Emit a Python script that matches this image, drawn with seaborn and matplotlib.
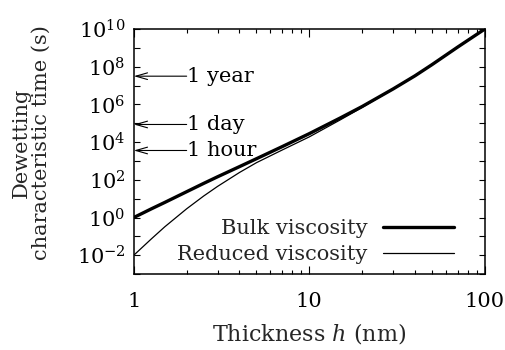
import matplotlib
matplotlib.use("Agg")
import matplotlib.pyplot as plt
import seaborn as sns
import pandas as pd

# Film thickness (nm)
thickness = [1, 1.26, 1.5, 2, 2.5, 3, 4, 5, 7, 10, 15, 20, 30, 40, 50, 70, 100]
# Dewetting characteristic time (s) with bulk viscosity
bulk_time = [1.0, 2.9, 6.3, 23.4, 64.6, 145, 501, 1318, 5750, 2.82e4, 1.91e5,
             7.76e5, 6.6e6, 3.3e7, 1.29e8, 1.1e9, 1.0e10]
# Dewetting characteristic time (s) with reduced (thin-film) viscosity
reduced_time = [1.0e-2, 0.074, 0.32, 2.9, 13.8, 44.7, 245, 813, 3800, 1.9e4,
                1.51e5, 6.9e5, 6.6e6, 3.3e7, 1.29e8, 1.1e9, 1.0e10]

# Reference time scales marked on the time axis
ref_labels = ["1 year", "1 day", "1 hour"]
ref_times = [3.156e7, 86400, 3600]

x_ticks = [1, 10, 100]
y_decades = list(range(-3, 11))

sns.set_theme(style="ticks")
plt.rcParams["font.family"] = ["DejaVu Serif"]
plt.rcParams["mathtext.fontset"] = "dejavuserif"
plt.rcParams["mathtext.default"] = "regular"

fs = 15
fig = plt.figure(figsize=(5.05, 3.5), dpi=100)
ax = fig.add_axes([0.265, 0.217, 0.695, 0.70])

df = pd.DataFrame({"h": thickness, "bulk": bulk_time, "reduced": reduced_time})
sns.lineplot(data=df, x="h", y="bulk", ax=ax, color="black", lw=2.4,
             label="Bulk viscosity")
sns.lineplot(data=df, x="h", y="reduced", ax=ax, color="black", lw=0.9,
             label="Reduced viscosity")

ax.set_xscale("log")
ax.set_yscale("log")
ax.set_xlim(1, 100)
ax.set_ylim(1e-3, 1e10)

ax.set_xticks(x_ticks)
ax.set_xticklabels([str(v) for v in x_ticks])
ax.set_yticks([10.0 ** d for d in y_decades])
ax.set_yticklabels([rf"$10^{{{d}}}$" if d % 2 == 0 else "" for d in y_decades])
ax.yaxis.set_minor_locator(matplotlib.ticker.NullLocator())

ax.tick_params(which="both", direction="in", top=True, right=True,
               labelsize=fs, colors="black", width=0.8)
ax.tick_params(axis="x", which="major", length=6, pad=13)
ax.tick_params(axis="x", which="minor", length=3)
ax.tick_params(axis="y", which="major", length=4, pad=6)
for s in ax.spines.values():
    s.set_linewidth(1.1)
    s.set_color("black")

ax.set_xlabel("Thickness $\\mathit{h}$ (nm)", fontsize=fs + 1, labelpad=7)
ax.set_ylabel("Dewetting\ncharacteristic time (s)", fontsize=fs,
              linespacing=1.0)
ax.yaxis.set_label_coords(-0.238, 0.535)

# Arrows pointing at the reference times on the y axis
for lab, t in zip(ref_labels, ref_times):
    ax.annotate("", xy=(1, t), xytext=(2.0, t),
                arrowprops=dict(arrowstyle="->,head_length=0.7,head_width=0.2",
                                color="black", lw=0.8, shrinkA=0, shrinkB=0))
    ax.text(2.02, t, lab, fontsize=fs, va="center", ha="left", color="black")

ax.legend(loc="lower right", bbox_to_anchor=(0.948, -0.01), frameon=False,
          markerfirst=False, handlelength=3.4, fontsize=fs,
          labelspacing=0.32, handletextpad=0.75, borderaxespad=0.2)

fig.savefig("out.png", dpi=100)
